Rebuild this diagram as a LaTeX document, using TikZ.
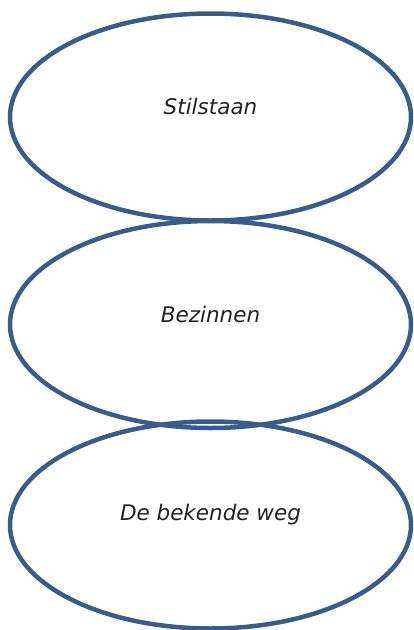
\documentclass[tikz,border=0pt]{standalone}
\usepackage{fontspec}
\setmainfont{DejaVu Sans}
\tikzset{
  oval/.style={draw=ovalblue, line width=4.5pt, ellipse, minimum width=401pt, minimum height=207pt, inner sep=0pt},
  lbl/.style={text=textgray, font=\fontsize{21.5}{24}\selectfont\itshape}
}
\usetikzlibrary{shapes.geometric}
\definecolor{ovalblue}{HTML}{385D8A}
\definecolor{textgray}{HTML}{222222}
\begin{document}
\begin{tikzpicture}[x=1pt,y=-1pt]
\useasboundingbox (0,0) rectangle (414,630);
\node[oval] (e1) at (210.5,117) {};
\node[oval] (e2) at (210.5,324.5) {};
\node[oval] (e3) at (210.5,525) {};
\node[lbl] (t1) at ([yshift=11pt]e1.center) {Stilstaan};
\node[lbl] (t2) at ([yshift=10pt]e2.center) {Bezinnen};
\node[lbl] (t3) at ([yshift=10pt]e3.center) {De bekende weg};
\end{tikzpicture}
\end{document}
